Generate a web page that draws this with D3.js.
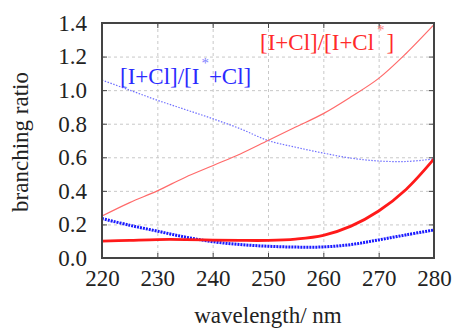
<!DOCTYPE html>
<html>
<head>
<meta charset="utf-8">
<script src="https://cdn.jsdelivr.net/npm/d3@7/dist/d3.min.js"></script>
<style>
  html, body { margin: 0; padding: 0; background: #fff; }
  svg { display: block; font-family: "Liberation Serif", "DejaVu Serif", serif; }
</style>
</head>
<body>
<div id="chart"></div>
<script>
// wavelength samples (nm)
const wavelengths = [220, 225, 230, 235, 240, 245, 250, 255, 260, 265, 270, 275, 280];

// [I+Cl]/[I+Cl*] — thin and thick curves
const redThin  = [0.25, 0.33, 0.40, 0.48, 0.55, 0.62, 0.70, 0.78, 0.86, 0.96, 1.07, 1.22, 1.39];
const redThick = [0.10, 0.105, 0.11, 0.11, 0.107, 0.105, 0.105, 0.113, 0.135, 0.19, 0.28, 0.41, 0.59];

// [I+Cl]/[I*+Cl] — thin and thick curves
const blueThin  = [1.06, 1.00, 0.94, 0.885, 0.83, 0.77, 0.70, 0.66, 0.625, 0.595, 0.578, 0.575, 0.59];
const blueThick = [0.235, 0.195, 0.16, 0.125, 0.097, 0.08, 0.07, 0.065, 0.066, 0.08, 0.108, 0.138, 0.167];

const xTicks = [220, 230, 240, 250, 260, 270, 280];
const yTicks = [0, 0.2, 0.4, 0.6, 0.8, 1.0, 1.2, 1.4];

const W = 458, H = 329;
const margin = { top: 23, right: 24, bottom: 71, left: 102 };
const width = W - margin.left - margin.right;
const height = H - margin.top - margin.bottom;

const svg = d3.select("#chart").append("svg").attr("width", W).attr("height", H);
const g = svg.append("g").attr("transform", `translate(${margin.left},${margin.top})`);

const x = d3.scaleLinear().domain([220, 280]).range([0, width]);
const y = d3.scaleLinear().domain([0, 1.4]).range([height, 0]);

// grid
g.append("g")
  .call(d3.axisBottom(x).tickValues(xTicks).tickSize(height).tickFormat(() => ""))
  .call((s) => s.select(".domain").remove())
  .selectAll(".tick line")
  .attr("stroke", "#c8c8c8")
  .attr("stroke-dasharray", "3 3");

g.append("g")
  .call(d3.axisLeft(y).tickValues(yTicks).tickSize(-width).tickFormat(() => ""))
  .call((s) => s.select(".domain").remove())
  .selectAll(".tick line")
  .attr("stroke", "#c8c8c8")
  .attr("stroke-dasharray", "3 3");

// curves
const line = (vals) =>
  d3.line()
    .x((d, i) => x(wavelengths[i]))
    .y((d) => y(d))
    .curve(d3.curveCatmullRom)(vals);

g.append("path").attr("d", line(blueThin)).attr("fill", "none")
  .attr("stroke", "#7070ff").attr("stroke-width", 1.2).attr("stroke-dasharray", "1.5 1.5");
g.append("path").attr("d", line(redThin)).attr("fill", "none")
  .attr("stroke", "#ff6a6a").attr("stroke-width", 1.2);
g.append("path").attr("d", line(blueThick)).attr("fill", "none")
  .attr("stroke", "#1a1aff").attr("stroke-width", 3).attr("stroke-dasharray", "2 1");
g.append("path").attr("d", line(redThick)).attr("fill", "none")
  .attr("stroke", "#ff1a1a").attr("stroke-width", 2.8);

// axes: ticks inward on all four sides
const axisStyle = (s) => {
  s.select(".domain").remove();
  s.selectAll(".tick line").attr("stroke", "#444").attr("stroke-width", 1);
  s.selectAll(".tick text").attr("font-size", "23px").attr("fill", "#222")
    .attr("font-family", "Liberation Serif, serif");
};

g.append("g").attr("transform", `translate(0,${height})`)
  .call(d3.axisBottom(x).tickValues(xTicks).tickSize(-5).tickPadding(12).tickFormat(d3.format("d")))
  .call(axisStyle);
g.append("g")
  .call(d3.axisTop(x).tickValues(xTicks).tickSize(-5).tickFormat(() => ""))
  .call(axisStyle);
g.append("g")
  .call(d3.axisLeft(y).tickValues(yTicks).tickSize(-5).tickPadding(15).tickFormat(d3.format(".1f")))
  .call(axisStyle);
g.append("g").attr("transform", `translate(${width},0)`)
  .call(d3.axisRight(y).tickValues(yTicks).tickSize(-5).tickFormat(() => ""))
  .call(axisStyle);

// frame
g.append("rect").attr("width", width).attr("height", height)
  .attr("fill", "none").attr("stroke", "#444").attr("stroke-width", 2);

// axis titles
svg.append("text")
  .attr("x", 268).attr("y", 323)
  .attr("text-anchor", "middle").attr("font-size", "23px").attr("fill", "#222")
  .text("wavelength/ nm");
svg.append("text")
  .attr("transform", "translate(28,142) rotate(-90)")
  .attr("text-anchor", "middle").attr("font-size", "23px").attr("fill", "#222")
  .text("branching ratio");

// series labels
const redLabel = svg.append("text").attr("x", 260).attr("y", 50)
  .attr("font-size", "23px").attr("fill", "#ff2a2a");
redLabel.append("tspan").text("[I+Cl]/[I+Cl");
redLabel.append("tspan").attr("dy", -15).attr("dx", 3).attr("font-size", "15px").attr("fill", "#ff8080").text("*");
redLabel.append("tspan").attr("dy", 15).attr("dx", 2).text("]");

const blueLabel = svg.append("text").attr("x", 120).attr("y", 84)
  .attr("font-size", "23px").attr("fill", "#2a2aff");
blueLabel.append("tspan").text("[I+Cl]/[I");
blueLabel.append("tspan").attr("dy", -16).attr("dx", 2).attr("font-size", "15px").attr("fill", "#8080ff").text("*");
blueLabel.append("tspan").attr("dy", 16).text("+Cl]");
</script>
</body>
</html>
